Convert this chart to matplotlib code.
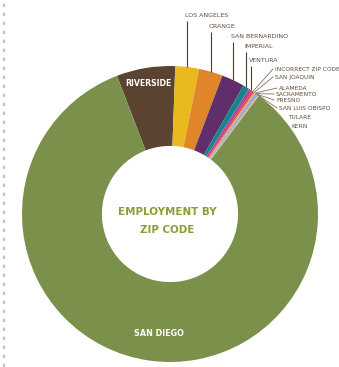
import numpy as np
import matplotlib
matplotlib.use("Agg")
import matplotlib.pyplot as plt
from matplotlib.lines import Line2D

# Employment share by county (percent), clockwise from Riverside
counties = ["RIVERSIDE", "LOS ANGELES", "ORANGE", "SAN BERNARDINO", "IMPERIAL",
            "VENTURA", "INCORRECT ZIP CODE", "SAN JOAQUIN", "ALAMEDA", "SACRAMENTO",
            "FRESNO", "SAN LUIS OBISPO", "TULARE", "KERN", "SAN DIEGO"]
shares = [6.4, 2.6, 2.6, 2.5, 0.7,
          0.4, 0.2, 0.15, 0.12, 0.12,
          0.1, 0.08, 0.08, 0.05, 83.9]
colors = ["#5b4332", "#e9b91f", "#e0852a", "#5f2e6b", "#15858a",
          "#b1479d", "#d6423a", "#e58c3c", "#e7a3b4", "#6d8fc7",
          "#a89cc8", "#9a9a9a", "#c8b48a", "#9cc0d8", "#7b914b"]

W, H = 339, 367
CX, CY, R = 170, 214, 148   # donut centre and radius in pixels (from top-left)


def px(x, y):
    """Pixel position (from top-left) to data coordinates."""
    return (x - CX) / R, (CY - y) / R


fig = plt.figure(figsize=(W / 100, H / 100), dpi=100)
ax = fig.add_axes([0, 0, 1, 1])

wedges, _ = ax.pie(shares, colors=colors, startangle=111, counterclock=False,
                   radius=1.0, wedgeprops=dict(width=0.54, linewidth=0))
ax.set_xlim(-CX / R, (W - CX) / R)
ax.set_ylim((CY - H) / R, CY / R)
ax.set_aspect("equal")
ax.axis("off")

ink = "#4e3d2c"
label_ink = "#5e4d3b"

# Labels with vertical leaders
vertical = {"LOS ANGELES": 15, "ORANGE": 26, "SAN BERNARDINO": 36,
            "IMPERIAL": 46, "VENTURA": 60}
for name, ty in vertical.items():
    w = wedges[counties.index(name)]
    m = np.deg2rad((w.theta1 + w.theta2) / 2)
    x0, y0 = np.cos(m), np.sin(m)
    top = px(0, ty + 6)[1]
    ax.plot([x0, x0], [y0, top], color=ink, lw=0.8, solid_capstyle="butt")
    ax.text(x0 - 2 / R, px(0, ty)[1], name, fontsize=4.5, color=label_ink,
            ha="left", va="center")

# Fanned labels for the smallest counties
fan = {"INCORRECT ZIP CODE": (275, 69), "SAN JOAQUIN": (275, 77),
       "ALAMEDA": (279, 88), "SACRAMENTO": (276, 94), "FRESNO": (276, 100),
       "SAN LUIS OBISPO": (279, 108), "TULARE": (288, 117), "KERN": (291, 126)}
for name, (tx, ty) in fan.items():
    w = wedges[counties.index(name)]
    m = np.deg2rad((w.theta1 + w.theta2) / 2)
    x0, y0 = np.cos(m), np.sin(m)
    lx, ly = px(tx - 2, ty)
    if name not in ("TULARE", "KERN"):
        ax.plot([x0, lx], [y0, ly], color="#6b5a48", lw=0.5)
    ax.text(px(tx, 0)[0], ly, name, fontsize=4.2, color=label_ink,
            ha="left", va="center")

# In-slice labels
ax.text(*px(148, 83), "RIVERSIDE", fontsize=5.6, color="white",
        fontweight="bold", ha="center", va="center")
ax.text(*px(159, 334), "SAN DIEGO", fontsize=5.8, color="white",
        fontweight="bold", ha="center", va="center")

# Centre title
ax.text(*px(167, 212), "EMPLOYMENT BY", fontsize=7.4, color="#8f9b35",
        fontweight="bold", ha="center", va="center")
ax.text(*px(167, 230), "ZIP CODE", fontsize=7.4, color="#8f9b35",
        fontweight="bold", ha="center", va="center")

# Dotted rule along the left margin
fig.add_artist(Line2D([3.5 / W, 3.5 / W], [0, 1], transform=fig.transFigure,
                      color="#c4c4c4", lw=1.6, linestyle=(0, (1.5, 2.55))))

fig.savefig("out.png", dpi=100, facecolor="white")
